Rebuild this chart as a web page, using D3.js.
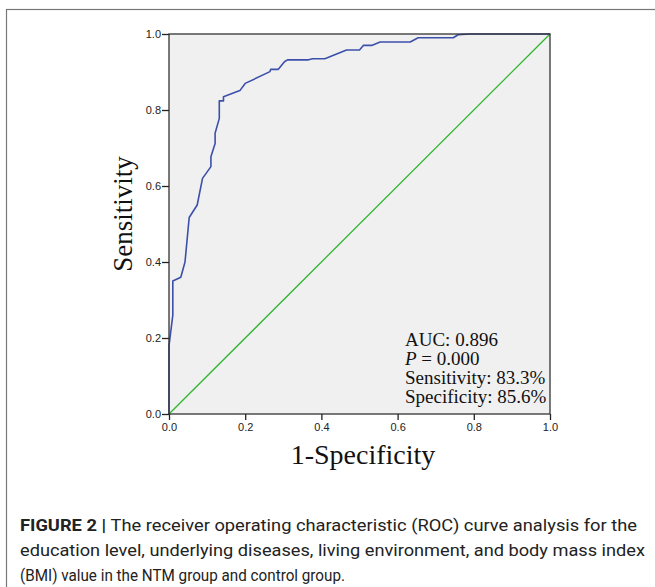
<!DOCTYPE html>
<html lang="en">

<head>
  <meta charset="utf-8">
  <script src="https://d3js.org/d3.v7.min.js"></script>
  <style>
    body {
      margin: 0;
      background: #fff;
    }

    .tick text {
      font-family: "Liberation Sans", Arial, sans-serif;
      font-size: 11px;
      fill: #222;
    }
  </style>
</head>

<body>
  <svg width="655" height="587"></svg>
  <script>
    // ROC curve points
    const fpr = [0, 0, 0.01, 0.01, 0.031, 0.042, 0.053, 0.074, 0.088, 0.11, 0.11, 0.121, 0.121, 0.132, 0.132,
      0.143, 0.143, 0.186, 0.2, 0.265, 0.267, 0.287, 0.303, 0.311, 0.366, 0.377, 0.409, 0.466, 0.5, 0.51,
      0.532, 0.554, 0.633, 0.654, 0.746, 0.759, 0.79, 1];
    const tpr = [0, 0.18, 0.26, 0.35, 0.36, 0.40, 0.517, 0.55, 0.62, 0.651, 0.677, 0.712, 0.739, 0.778, 0.824,
      0.824, 0.835, 0.851, 0.870, 0.901, 0.907, 0.907, 0.927, 0.932, 0.932, 0.935, 0.935, 0.958, 0.958, 0.97,
      0.97, 0.979, 0.979, 0.99, 0.99, 0.998, 1, 1];
    const refLine = [0, 1];
    const ticks = [0, 0.2, 0.4, 0.6, 0.8, 1.0];
    const stats = ["AUC: 0.896", " = 0.000", "Sensitivity: 83.3%", "Specificity: 85.6%"];
    const caption = [
      "The receiver operating characteristic (ROC) curve analysis for the",
      "education level, underlying diseases, living environment, and body mass index",
      "(BMI) value in the NTM group and control group."
    ];

    const svg = d3.select("svg");

    // outer frame of the figure
    svg.append("rect")
      .attr("x", 6.5).attr("y", 9.5)
      .attr("width", 700).attr("height", 700)
      .attr("fill", "none")
      .attr("stroke", "#777")
      .attr("stroke-width", 1.2);

    const m = { left: 169, right: 550, top: 34, bottom: 414 };
    const x = d3.scaleLinear().domain([0, 1]).range([m.left, m.right]);
    const y = d3.scaleLinear().domain([0, 1]).range([m.bottom, m.top]);

    svg.append("rect")
      .attr("x", m.left).attr("y", m.top)
      .attr("width", m.right - m.left).attr("height", m.bottom - m.top)
      .attr("fill", "#f0f0f0");

    // diagonal reference
    svg.append("line")
      .attr("x1", x(refLine[0])).attr("y1", y(refLine[0]))
      .attr("x2", x(refLine[1])).attr("y2", y(refLine[1]))
      .attr("stroke", "#2fb52f")
      .attr("stroke-width", 1.3);

    const line = d3.line().x((d, i) => x(fpr[i])).y((d, i) => y(tpr[i]));
    svg.append("path")
      .attr("d", line(fpr))
      .attr("fill", "none")
      .attr("stroke", "#3c50aa")
      .attr("stroke-width", 1.6)
      .attr("stroke-linejoin", "round");

    svg.append("rect")
      .attr("x", m.left).attr("y", m.top)
      .attr("width", m.right - m.left).attr("height", m.bottom - m.top)
      .attr("fill", "none")
      .attr("stroke", "#333")
      .attr("stroke-width", 1.3);

    const fmt = d3.format(".1f");
    const xAxis = svg.append("g")
      .attr("transform", `translate(0,${m.bottom})`)
      .call(d3.axisBottom(x).tickValues(ticks).tickFormat(fmt).tickSize(6).tickSizeOuter(0).tickPadding(3));
    const yAxis = svg.append("g")
      .attr("transform", `translate(${m.left},0)`)
      .call(d3.axisLeft(y).tickValues(ticks).tickFormat(fmt).tickSize(7).tickSizeOuter(0).tickPadding(1));
    [xAxis, yAxis].forEach(g => {
      g.select(".domain").remove();
      g.selectAll(".tick line").attr("stroke", "#222").attr("stroke-width", 1.3);
    });

    // axis titles
    svg.append("text")
      .attr("x", 363).attr("y", 464)
      .attr("text-anchor", "middle")
      .attr("font-family", "'Liberation Serif', 'Times New Roman', serif")
      .attr("font-size", 28)
      .attr("fill", "#111")
      .text("1-Specificity");

    svg.append("text")
      .attr("transform", "translate(132,214) rotate(-90)")
      .attr("text-anchor", "middle")
      .attr("font-family", "'Liberation Serif', 'Times New Roman', serif")
      .attr("font-size", 27)
      .attr("fill", "#111")
      .text("Sensitivity");

    // stats box
    const st = svg.append("g")
      .attr("font-family", "'Liberation Serif', 'Times New Roman', serif")
      .attr("font-size", 19)
      .attr("fill", "#111");
    stats.forEach((s, i) => {
      const t = st.append("text").attr("x", 405).attr("y", 346 + i * 19)
        .attr("xml:space", "preserve");
      if (i === 1) {
        t.append("tspan").attr("font-style", "italic").text("P");
        t.append("tspan").text(s);
      } else {
        t.text(s);
      }
    });

    // caption
    const capW = [617, 625, 325];
    caption.forEach((c, i) => {
      const t = svg.append("text")
        .attr("x", 20).attr("y", 531 + i * 25)
        .attr("font-family", "'Liberation Sans Narrow', 'Roboto', 'Liberation Sans', sans-serif")
        .attr("font-size", 17)
        .attr("fill", "#222")
        .attr("textLength", capW[i])
        .attr("lengthAdjust", "spacingAndGlyphs");
      if (i === 0) {
        t.append("tspan").attr("font-weight", "bold").text("FIGURE 2 | ");
      }
      t.append("tspan").text(c);
    });
  </script>
</body>

</html>
